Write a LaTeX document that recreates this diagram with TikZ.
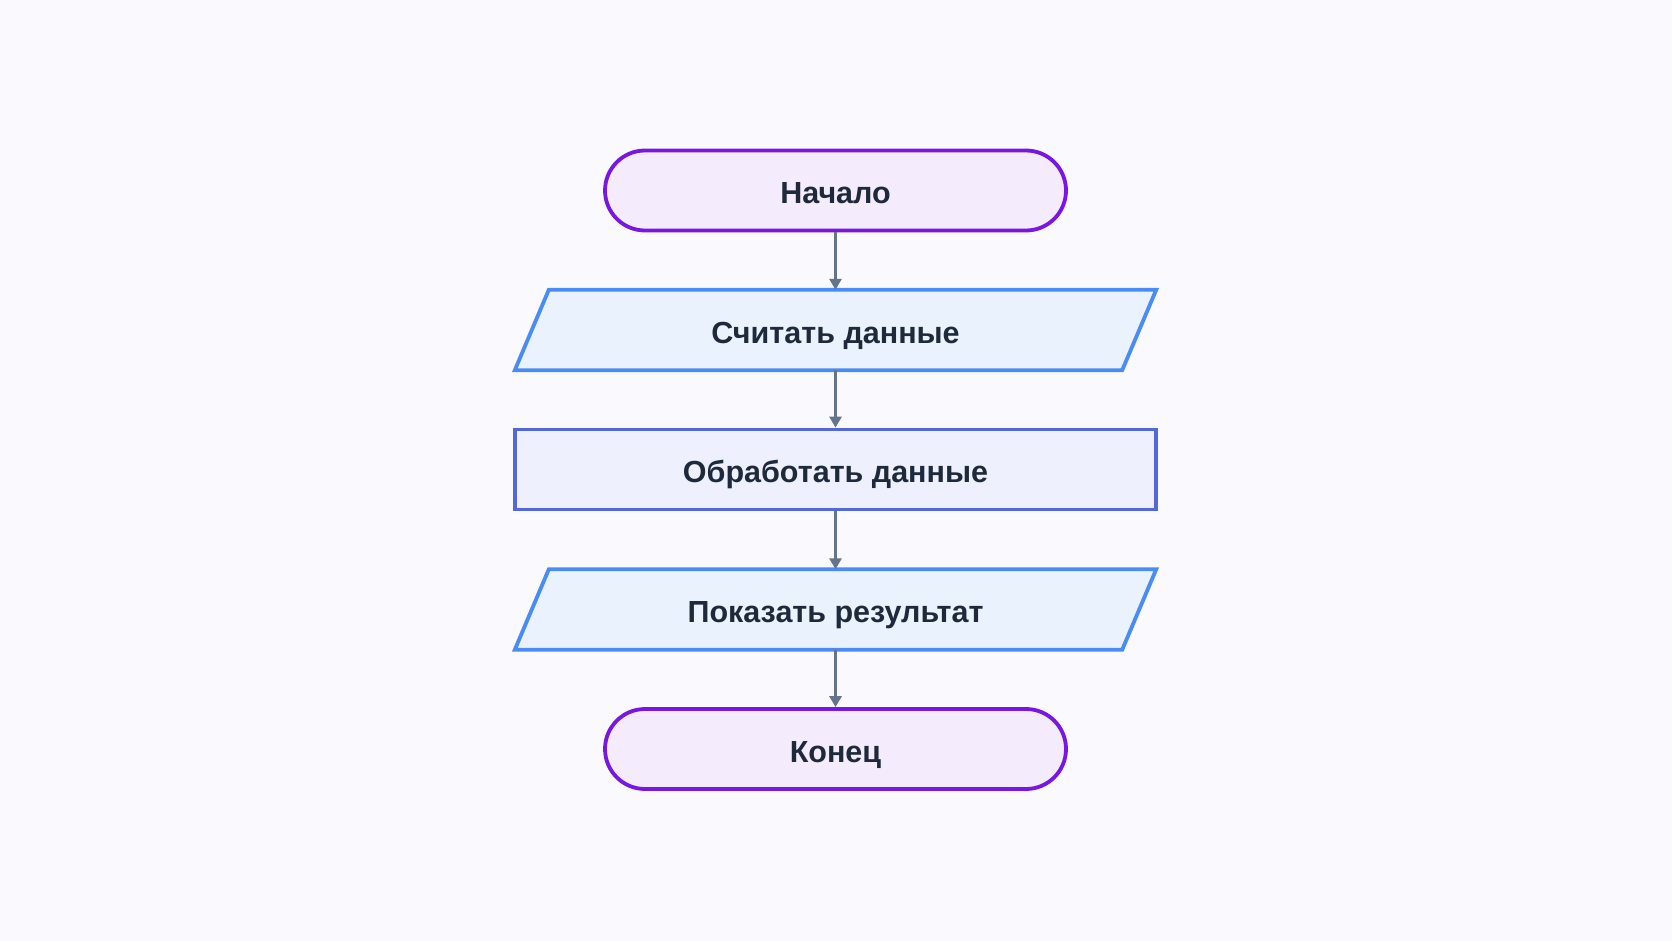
\documentclass[tikz,border=0pt]{standalone}
\usepackage{fontspec}
\setmainfont{Liberation Sans}
\usetikzlibrary{arrows.meta}
\definecolor{bgc}{HTML}{F9F9FE}
\definecolor{termfill}{HTML}{F4ECFD}
\definecolor{termdraw}{HTML}{7817E3}
\definecolor{iofill}{HTML}{EAF2FE}
\definecolor{iodraw}{HTML}{4A8CF5}
\definecolor{procfill}{HTML}{EEF1FD}
\definecolor{procdraw}{HTML}{5167DA}
\definecolor{arrowc}{HTML}{64748B}
\definecolor{textc}{HTML}{1E293B}
\tikzset{
  lbl/.style={font=\fontsize{30.5}{34}\selectfont\bfseries, text=textc, inner sep=0pt, text height=30pt, text depth=4pt},
  term/.style={lbl, draw=termdraw, fill=termfill, line width=3.8pt, rectangle, rounded corners=40pt, minimum width=461pt, minimum height=80pt},
  iobody/.style={lbl, draw=none, minimum width=607pt, minimum height=80pt},
  iopath/.style={draw=iodraw, fill=iofill, line width=3.8pt, line join=miter},
  proc/.style={lbl, draw=procdraw, fill=procfill, line width=3.8pt, minimum width=641pt, minimum height=80pt},
  conn/.style={draw=arrowc, line width=3.7pt, -{Triangle[length=11pt,width=12pt]}, shorten >=0pt}
}
\begin{document}
\begin{tikzpicture}[x=1pt,y=-1pt]
\useasboundingbox[fill=bgc] (0,0) rectangle (1672,941);
\node[term] (start) at (835.5,190.5) {Начало};
\node[iobody] (in) at (835.5,330) {};
\path[iopath] ([xshift=17pt]in.north west) -- ([xshift=17pt]in.north east) -- ([xshift=-17pt]in.south east) -- ([xshift=-17pt]in.south west) -- cycle;
\node[lbl] (intext) at (in.center) {Считать данные};
\node[proc] (proc) at (835.5,469.5) {Обработать данные};
\node[iobody] (out) at (835.5,609.5) {};
\path[iopath] ([xshift=17pt]out.north west) -- ([xshift=17pt]out.north east) -- ([xshift=-17pt]out.south east) -- ([xshift=-17pt]out.south west) -- cycle;
\node[lbl] (outtext) at (out.center) {Показать результат};
\node[term] (end) at (835.5,749) {Конец};
\draw[conn] (start.south) -- (in.north);
\draw[conn] (in.south) -- (proc.north);
\draw[conn] (proc.south) -- (out.north);
\draw[conn] (out.south) -- (end.north);
\end{tikzpicture}
\end{document}
